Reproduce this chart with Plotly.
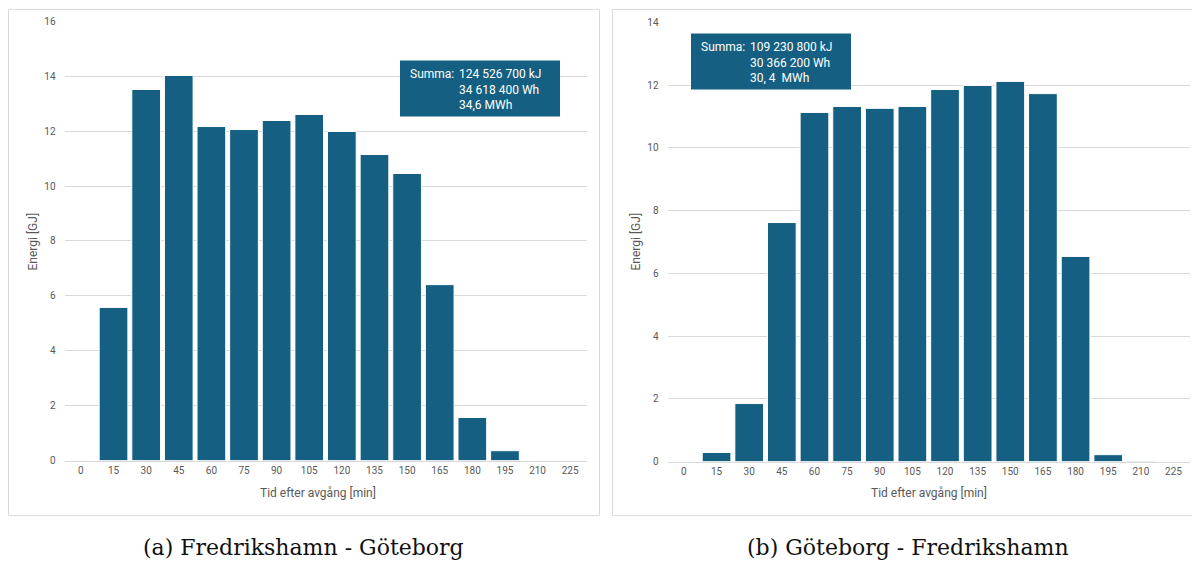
import plotly.graph_objects as go

# Time after departure (minutes) – category labels on the x axis
minutes = ["0", "15", "30", "45", "60", "75", "90", "105", "120",
           "135", "150", "165", "180", "195", "210", "225"]

# Energy per 15-minute interval [GJ]
energy_fh_gbg = [0, 5.58, 13.52, 14.03, 12.17, 12.06, 12.39, 12.61, 11.99,
                 11.15, 10.46, 6.41, 1.57, 0.36, 0, 0]
energy_gbg_fh = [0, 0.29, 1.85, 7.62, 11.13, 11.32, 11.26, 11.32, 11.86,
                 11.99, 12.12, 11.73, 6.54, 0.22, 0.02, 0]

sum_fh_gbg = ["124 526 700 kJ", "34 618 400 Wh", "34,6 MWh"]
sum_gbg_fh = ["109 230 800 kJ", "30 366 200 Wh", "30,\u00a04\u00a0\u00a0MWh"]

captions = ["(a) Fredrikshamn - Göteborg", "(b) Göteborg - Fredrikshamn"]

W, H = 1192, 561
BAR = "#156082"
GRID = "#d9d9d9"
TICK = "#595959"
FONT = "Roboto"
VSCALE = 0.98  # vertical stretch of the layout grid around the page centre


def px(x):
    return x / W


def py(y):
    yy = H / 2 + (y - H / 2) / VSCALE
    return 1 - yy / H


fig = go.Figure()
fig.add_trace(go.Bar(x=minutes, y=energy_fh_gbg, xaxis="x", yaxis="y",
                     marker=dict(color=BAR, line=dict(color="white", width=1)),
                     hoverinfo="x+y"))
fig.add_trace(go.Bar(x=minutes, y=energy_gbg_fh, xaxis="x2", yaxis="y2",
                     marker=dict(color=BAR, line=dict(color="white", width=1)),
                     hoverinfo="x+y"))

xcommon = dict(type="category", showgrid=False, showline=True, linecolor=GRID,
               linewidth=1, ticks="", tickfont=dict(family=FONT, size=10, color=TICK),
               fixedrange=True)
ycommon = dict(showgrid=True, gridcolor=GRID, gridwidth=1, zeroline=False,
               showline=False, ticks="", ticklabelstandoff=8,
               tickfont=dict(family=FONT, size=10, color=TICK), fixedrange=True)

fig.update_layout(
    width=W, height=H,
    margin=dict(l=0, r=0, t=0, b=0),
    paper_bgcolor="white", plot_bgcolor="white",
    showlegend=False, bargap=0.12,
    xaxis=dict(domain=[px(64.6), px(586.5)], anchor="y", **xcommon),
    yaxis=dict(domain=[py(461), py(22)], range=[0, 16], dtick=2, anchor="x", **ycommon),
    xaxis2=dict(domain=[px(667.6), px(1189.8)], anchor="y2", **xcommon),
    yaxis2=dict(domain=[py(462), py(23)], range=[0, 14], dtick=2, anchor="x2", **ycommon),
)

shapes = [
    # panel frames
    dict(type="rect", xref="paper", yref="paper", x0=px(8.5), x1=px(599.5),
         y0=py(516), y1=py(10), line=dict(color="#d9d9d9", width=1)),
    dict(type="rect", xref="paper", yref="paper", x0=px(612.5), x1=px(1196),
         y0=py(516), y1=py(10), line=dict(color="#d9d9d9", width=1)),
    # sum boxes
    dict(type="rect", xref="paper", yref="paper", x0=px(400), x1=px(560),
         y0=py(117), y1=py(61), fillcolor=BAR, line=dict(width=0)),
    dict(type="rect", xref="paper", yref="paper", x0=px(691), x1=px(851),
         y0=py(90), y1=py(34), fillcolor=BAR, line=dict(width=0)),
]
fig.update_layout(shapes=shapes)

ann = []
tfont = dict(family=FONT, size=12, color=TICK)
wfont = dict(family=FONT, size=12, color="white")
for cx, axis_x in [(318, 33), (929, 636)]:
    ann.append(dict(xref="paper", yref="paper", x=px(cx), y=py(493),
                    text="Tid efter avgång [min]", showarrow=False, font=tfont,
                    xanchor="center", yanchor="middle"))
    ann.append(dict(xref="paper", yref="paper", x=px(axis_x), y=py(242),
                    text="Energi [GJ]", showarrow=False, font=tfont, textangle=-90,
                    xanchor="center", yanchor="middle"))

for (bx, by, lines) in [(408, 75, sum_fh_gbg), (699, 48, sum_gbg_fh)]:
    ann.append(dict(xref="paper", yref="paper", x=px(bx), y=py(by),
                    text="Summa:", showarrow=False, font=wfont,
                    xanchor="left", yanchor="middle"))
    ann.append(dict(xref="paper", yref="paper", x=px(bx + 49), y=py(by - 9),
                    text="<br>".join(lines), showarrow=False, font=wfont,
                    xanchor="left", yanchor="top", align="left"))

for cx, cap in zip([303.5, 907.5], captions):
    ann.append(dict(xref="paper", yref="paper", x=px(cx), y=py(548),
                    text=cap, showarrow=False,
                    font=dict(family="DejaVu Serif", size=22, color="#111111"),
                    xanchor="center", yanchor="middle"))

fig.update_layout(annotations=ann)
fig.write_html("out.html")
